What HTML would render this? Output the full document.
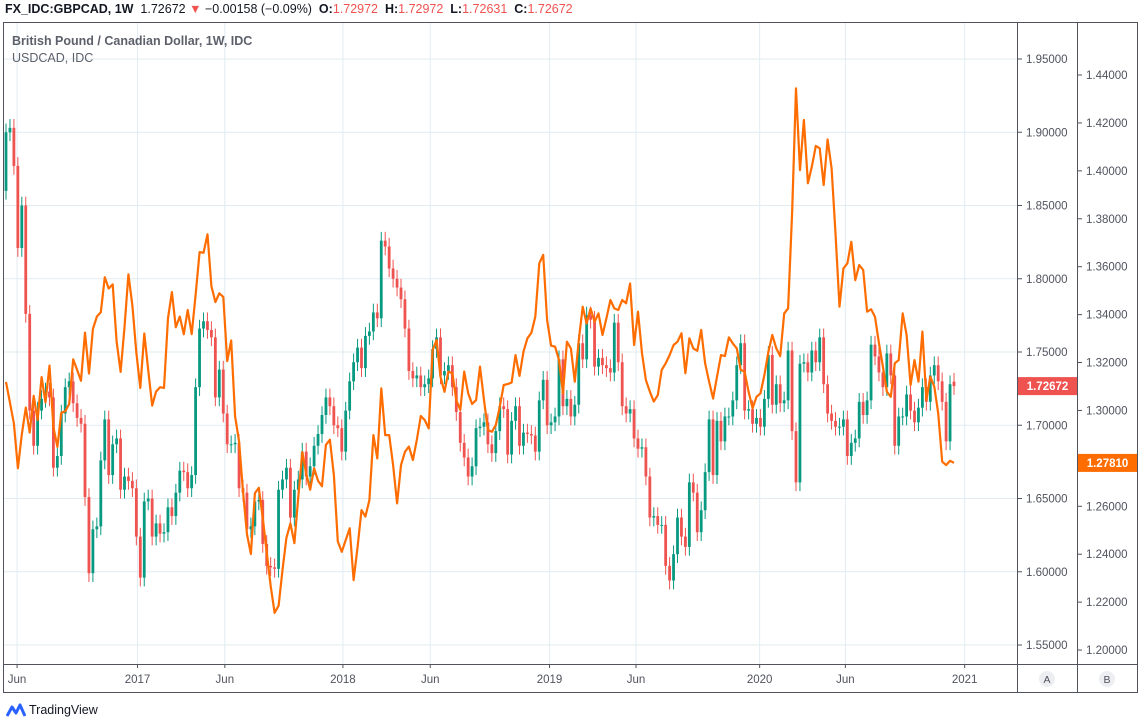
<!DOCTYPE html>
<html><head><meta charset="utf-8"><style>
html,body{margin:0;padding:0;background:#fff;width:1142px;height:723px;overflow:hidden;font-family:"Liberation Sans",sans-serif}
#hdr{position:absolute;left:5px;top:2px;font-size:12.5px;color:#131722;white-space:nowrap}
#hdr b{font-weight:bold}
.r{color:#ef5350}
#chart{position:absolute;left:0;top:0}
#logo{position:absolute;left:6px;top:703px;font-size:12.5px;color:#131722;display:flex;align-items:center;gap:3px}
</style></head><body>
<div id="hdr"><b>FX_IDC:GBPCAD, 1W</b>&nbsp; 1.72672 <span class="r">▼</span> −0.00158 (−0.09%) &nbsp;<b>O:</b><span class="r">1.72972</span> &nbsp;<b>H:</b><span class="r">1.72972</span> &nbsp;<b>L:</b><span class="r">1.72631</span> &nbsp;<b>C:</b><span class="r">1.72672</span></div>
<svg id="chart" width="1142" height="723"></svg>
<div id="logo"><svg width="20" height="14" viewBox="0 0 20 14"><path d="M1 13 L6 4 L10 10 L14 2 L19 13" fill="none" stroke="#2962ff" stroke-width="3" stroke-linejoin="round"/></svg><span>TradingView</span></div>
<script>
const gbpClose=[1.900,1.903,1.877,1.821,1.850,1.776,1.710,1.686,1.710,1.718,1.723,1.719,1.671,1.679,1.708,1.726,1.730,1.715,1.705,1.701,1.651,1.599,1.629,1.631,1.676,1.704,1.666,1.687,1.691,1.656,1.665,1.662,1.657,1.624,1.596,1.648,1.650,1.624,1.633,1.626,1.627,1.644,1.638,1.654,1.669,1.668,1.657,1.666,1.726,1.766,1.771,1.765,1.760,1.719,1.738,1.708,1.687,1.687,1.688,1.657,1.654,1.629,1.631,1.648,1.649,1.619,1.604,1.603,1.602,1.656,1.663,1.671,1.637,1.656,1.663,1.682,1.665,1.672,1.686,1.694,1.707,1.719,1.713,1.700,1.698,
1.682,1.710,1.730,1.743,1.753,1.739,1.761,1.764,1.777,1.773,1.826,1.822,1.807,1.800,1.794,1.786,1.766,1.737,1.732,1.734,1.726,1.728,1.732,1.752,1.760,1.734,1.737,1.741,1.726,1.709,1.688,1.678,1.665,1.672,1.698,1.699,1.702,1.687,1.681,1.696,1.713,1.711,1.680,1.703,1.713,1.686,1.695,1.694,1.693,1.682,1.717,1.731,1.700,1.702,1.706,1.745,1.713,1.718,1.706,1.714,1.756,1.745,1.775,1.772,1.740,1.746,1.741,1.739,1.736,1.770,1.743,1.713,1.708,1.711,1.691,1.684,1.685,1.665,1.637,1.638,1.632,1.632,1.604,1.594,
1.612,1.637,1.624,1.617,1.661,1.654,1.627,1.642,1.668,1.704,1.666,1.703,1.689,1.706,1.706,1.717,1.741,1.756,1.710,1.711,1.701,1.705,1.699,1.718,1.748,1.714,1.728,1.715,1.717,1.751,1.696,1.661,1.742,1.743,1.736,1.751,1.743,1.760,1.728,1.708,1.703,1.699,1.699,1.704,1.679,1.688,1.691,1.716,1.707,1.717,1.755,1.747,1.736,1.726,1.749,1.734,1.686,1.706,1.706,1.721,1.710,1.702,1.712,1.726,1.716,1.734,1.741,1.730,1.716,1.689,1.728,1.72672];
const gbpFirstOpen=1.860;
const lastOpen=1.72972;
const usdClose=[1.3119,1.3034,1.2945,1.2759,1.2900,1.3012,1.2908,1.3061,1.2960,1.3139,1.3034,1.3187,1.2930,1.2848,1.2990,1.2997,1.3027,1.3213,1.3169,1.3124,1.3325,1.3154,1.3340,1.3392,1.3410,1.3556,1.3509,1.3526,1.3288,1.3161,1.3347,1.3568,1.3437,1.3243,1.3094,1.3321,1.3169,1.3020,1.3079,1.3097,1.3094,1.3385,1.3494,1.3347,1.3392,1.3318,1.3419,1.3318,1.3482,1.3661,1.3658,1.3735,1.3519,1.3452,1.3489,1.3474,1.3206,1.3292,1.2975,1.2870,1.2662,1.2483,1.2401,1.2654,1.2677,1.2550,1.2408,1.2267,1.2155,1.2185,1.2334,1.2468,1.2528,1.2446,1.2639,1.2826,1.2736,1.2669,1.2759,1.2706,1.2684,1.2856,1.2878,1.2729,1.2453,
1.2410,1.2459,1.2508,1.2292,1.2431,1.2584,1.2557,1.2626,1.2897,1.2800,1.3092,1.2897,1.2897,1.2772,1.2612,1.2772,1.2828,1.2849,1.2793,1.2877,1.2977,1.2960,1.2925,1.3252,1.3294,1.3141,1.3078,1.3162,1.3155,1.3043,1.3002,1.3162,1.3071,1.3027,1.3043,1.3183,1.3043,1.2918,1.2911,1.2939,1.3016,1.3106,1.3110,1.3116,1.3231,1.3144,1.3245,1.3301,1.3324,1.3391,1.3614,1.3649,1.3377,1.3270,1.3266,1.3210,1.3071,1.3287,1.3259,1.3120,1.3294,1.3433,1.3363,1.3426,1.3370,1.3405,1.3315,1.3384,1.3461,1.3426,1.3419,1.3461,1.3447,1.3530,1.3273,1.3412,1.3238,1.3127,1.3078,1.3037,1.3064,1.3169,1.3196,1.3231,
1.3273,1.3287,1.3322,1.3155,1.3301,1.3259,1.3249,1.3336,1.3197,1.3120,1.3050,1.3141,1.3231,1.3227,1.3305,1.3280,1.3259,1.3169,1.3162,1.3078,1.3009,1.3057,1.3071,1.3148,1.3245,1.3315,1.3259,1.3227,1.3405,1.3426,1.3823,1.4344,1.4003,1.4212,1.3948,1.4017,1.4104,1.4094,1.3941,1.4131,1.4010,1.3739,1.3433,1.3593,1.3614,1.3704,1.3544,1.3607,1.3586,1.3412,1.3422,1.3391,1.3280,1.3183,1.3078,1.3057,1.3197,1.3210,1.3405,1.3315,1.3106,1.3210,1.3120,1.3329,1.3044,1.3141,1.3099,1.2988,1.2786,1.2772,1.2790,1.2781];
const gbpTicks=[1.95,1.90,1.85,1.80,1.75,1.70,1.65,1.60,1.55];
const usdTicks=[1.44,1.42,1.40,1.38,1.36,1.34,1.32,1.30,1.28,1.26,1.24,1.22,1.20];
const xLabels=["Jun","2017","Jun","2018","Jun","2019","Jun","2020","Jun","2021"];
const xLabelWeeks=[2.8,33.3,55.4,85.3,107.4,137.6,159.5,190.8,212.5,242.7];

const svg=document.getElementById('chart');
const NS='http://www.w3.org/2000/svg';
function mk(tag,attrs,parent){const e=document.createElementNS(NS,tag);for(const k in attrs)e.setAttribute(k,attrs[k]);(parent||svg).appendChild(e);return e;}
const PL=4,PR=1017,PT=23,PB=664;
const yG=v=>59+(1.95-v)*1465;
const yU=v=>75+(1.44-v)*2396;
const xW=i=>6+i*(948/(gbpClose.length-1));

// grid
gbpTicks.forEach(t=>{const l=mk('line',{x1:PL,x2:PR,y1:yG(t),y2:yG(t),stroke:'#e1ecf2','stroke-width':1});

});
xLabelWeeks.forEach(w=>{const l=mk('line',{x1:xW(w),x2:xW(w),y1:PT,y2:PB,stroke:'#e1ecf2','stroke-width':1});

});

// candles
const cg=mk('g',{});


gbpClose.forEach((c,i)=>{
  const o=i===0?gbpFirstOpen:(i===gbpClose.length-1?lastOpen:gbpClose[i-1]);
  const up=c>=o, col=up?'#089981':'#ef5350';
  const hi=Math.max(o,c)+0.006, lo=Math.min(o,c)-0.006;
  const x=xW(i);
  const w=mk('line',{x1:x,x2:x,y1:yG(hi),y2:yG(lo),stroke:col,'stroke-width':1},cg);
  
  
  const t=yG(Math.max(o,c)), b=yG(Math.min(o,c));
  const r=mk('rect',{x:x-1.4,y:t,width:2.8,height:Math.max(1,b-t),fill:col},cg);
  
  
});

// usdcad line
const pts=usdClose.map((v,i)=>xW(i).toFixed(1)+','+yU(v).toFixed(1)).join(' ');
const pl=mk('polyline',{points:pts,fill:'none',stroke:'#ff6d00','stroke-width':2.2,'stroke-linejoin':'round'});



// legend text
const t1=mk('text',{x:12,y:45,'font-size':12.5,fill:'#5d606b','font-weight':'bold'});t1.textContent='British Pound / Canadian Dollar, 1W, IDC';


const t2=mk('text',{x:12,y:62,'font-size':12.5,fill:'#5d606b'});t2.textContent='USDCAD, IDC';



// frame & axes
mk('rect',{x:3.5,y:22.5,width:1134,height:670,fill:'none',stroke:'#50535e','stroke-width':1});
mk('line',{x1:1017.5,x2:1017.5,y1:22,y2:693,stroke:'#50535e'});
mk('line',{x1:1077.5,x2:1077.5,y1:22,y2:693,stroke:'#50535e'});
mk('line',{x1:3,x2:1138,y1:664.5,y2:664.5,stroke:'#50535e'});

gbpTicks.forEach(t=>{const y=yG(t);mk('line',{x1:1017,x2:1022,y1:y,y2:y,stroke:'#50535e'});
const tx=mk('text',{x:1026,y:y+4,'font-size':11.5,fill:'#50535e'});tx.textContent=t.toFixed(5);

});
usdTicks.forEach(t=>{const y=yU(t);mk('line',{x1:1077,x2:1082,y1:y,y2:y,stroke:'#50535e'});
const tx=mk('text',{x:1086,y:y+4,'font-size':11.5,fill:'#50535e'});tx.textContent=t.toFixed(5);

});

xLabels.forEach((s,i)=>{const x=xW(xLabelWeeks[i]);mk('line',{x1:x,x2:x,y1:664,y2:668,stroke:'#50535e'});
const tx=mk('text',{x:x,y:683,'font-size':11.5,fill:'#50535e','text-anchor':'middle'});tx.textContent=s;

});

// last value labels
function tag(x,w,v,yf,col,txt,name){const y=yf(v);const g=mk('g',{});


mk('rect',{x:x,y:y-9,width:w,height:18,fill:col},g);
const t=mk('text',{x:x+w/2,y:y+4,'font-size':11.5,'font-weight':'bold',fill:'#fff','text-anchor':'middle'},g);t.textContent=txt;}
tag(1018,59,gbpClose[gbpClose.length-1],yG,'#ef5350','1.72672','gbp-last-price-label');
tag(1078,59,usdClose[usdClose.length-1],yU,'#ff6d00','1.27810','usd-last-price-label');

// A/B buttons
[['A',1047],['B',1107]].forEach(([s,x])=>{const g=mk('g',{});


mk('circle',{cx:x,cy:679,r:8,fill:'#eceef2'},g);
const t=mk('text',{x:x,y:683,'font-size':10.5,fill:'#50535e','text-anchor':'middle'},g);t.textContent=s;});
</script>
</body></html>
